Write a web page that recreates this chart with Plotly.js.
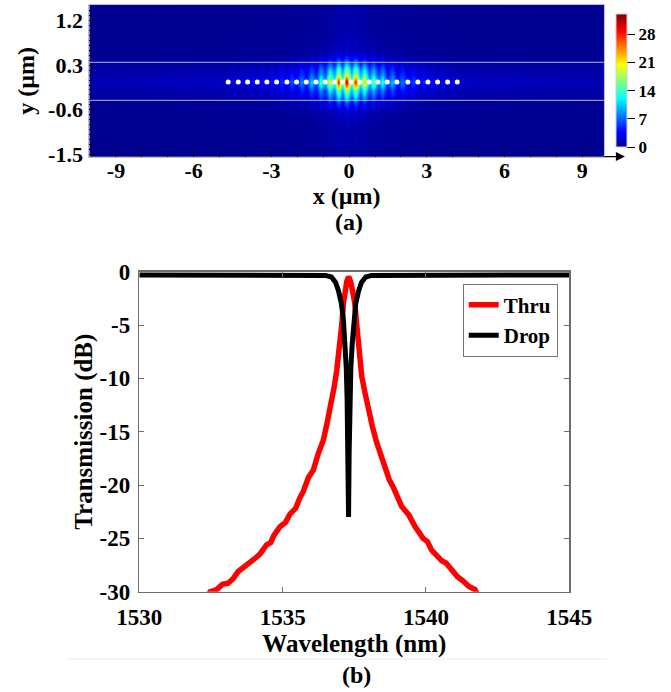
<!DOCTYPE html>
<html>
<head>
<meta charset="utf-8">
<script src="https://cdn.plot.ly/plotly-3.0.1.min.js"></script>
<style>html,body{margin:0;padding:0;background:#fff;}</style>
</head>
<body>
<div id="chart" style="width:671px;height:692px;"></div>
<script>
// ---------- (a) field map ----------
// hole centres along the line (µm)
const holeX = [-4.667,-4.281,-3.920,-3.547,-3.174,-2.800,-2.402,-2.028,-1.655,-1.282,-0.921,-0.574,-0.252,0.069,0.417,0.777,1.112,1.472,1.846,2.270,2.656,3.042,3.416,3.802,4.175];
const holeY = [-0.04,-0.04,-0.04,-0.04,-0.04,-0.04,-0.04,-0.04,-0.04,-0.04,-0.04,-0.04,-0.04,-0.04,-0.04,-0.04,-0.04,-0.04,-0.04,-0.04,-0.04,-0.04,-0.04,-0.04,-0.04];
// field grid columns (holes and the bright lobes between them) and field strength along the line
const fieldX = [-10.03,-8.0,-6.5,-5.5,-4.85,
  -4.667,-4.474,-4.281,-4.101,-3.920,-3.734,-3.547,-3.361,-3.174,-2.987,-2.800,-2.601,-2.402,-2.215,-2.028,-1.842,-1.655,-1.469,-1.282,-1.102,-0.921,-0.748,-0.574,-0.413,-0.252,-0.092,0.069,0.243,0.417,0.597,0.777,0.945,1.112,1.292,1.472,1.659,1.846,2.058,2.270,2.463,2.656,2.849,3.042,3.229,3.416,3.609,3.802,3.989,4.175,
  4.37,5.0,6.0,7.5,9.84];
const fieldAlongX = [1.3,1.4,1.6,1.8,1.9,
  1.9,2.8,2.0,3.0,2.1,3.3,2.2,3.8,2.4,4.4,2.8,5.4,3.2,6.8,3.9,8.5,4.8,11,6.3,15,9,21,13,29,15,32,15,29,13,23,10,17,8,14,5.8,10.5,4.5,8,3.6,6.2,3.0,4.9,2.6,3.9,2.3,3.2,2.0,2.8,1.9,
  1.9,1.8,1.6,1.4,1.3];
// field grid rows (µm) and relative strength across the waveguide
const fieldY = [-1.55,-1.0,-0.75,-0.61,-0.47,-0.34,-0.2,-0.12,-0.04,0.04,0.12,0.2,0.30,0.44,0.57,0.8,1.52];
const fieldAcrossY = [0.03,0.04,0.06,0.1,0.22,0.42,0.6,0.82,1,0.82,0.65,0.56,0.38,0.17,0.08,0.05,0.03];
const waveguideEdges = [0.36,-0.41];
const cbTicks = [0,7,14,21,28];
const xTicksA = [-9,-6,-3,0,3,6,9];
const yTicksA = [-1.5,-0.6,0.3,1.2];

// ---------- (b) transmission spectra ----------
const thruWl = [1532.38,1532.47,1532.7,1532.9,1533.1,1533.28,1533.45,1533.6,1533.8,1533.98,1534.2,1534.44,1534.58,1534.7,1534.91,1535.1,1535.26,1535.45,1535.6,1535.72,1535.9,1536.07,1536.25,1536.42,1536.55,1536.71,1536.8,1536.89,1536.95,1537.0,1537.07,1537.12,1537.18,1537.24,1537.30,1537.37,1537.44,1537.52,1537.58,1537.64,1537.70,1537.76,1537.87,1537.99,1538.13,1538.28,1538.42,1538.57,1538.72,1538.86,1539.0,1539.15,1539.4,1539.62,1539.9,1540.05,1540.2,1540.55,1540.7,1540.9,1541.1,1541.3,1541.5,1541.71,1541.82];
const thruDb = [-30.4,-30,-29.8,-29.3,-29.2,-28.75,-28.1,-27.8,-27.5,-27.0,-26.5,-25.6,-25.4,-24.7,-23.9,-23.5,-22.7,-22.2,-21.2,-20.6,-19.3,-18.6,-17.0,-15.8,-14.2,-12.3,-10.8,-9.2,-8.0,-6.7,-4.8,-3.0,-1.8,-0.9,-0.47,-0.9,-1.8,-3.0,-4.8,-6.7,-8.2,-9.8,-11.3,-12.9,-14.5,-16.0,-17.2,-18.3,-19.5,-20.2,-21.0,-22.0,-22.8,-23.9,-25.0,-25.3,-26.1,-27.1,-27.3,-28.0,-28.6,-29.0,-29.5,-29.8,-30.4];
const dropWl = [1530,1536.5,1536.7,1536.85,1536.95,1537.05,1537.12,1537.18,1537.22,1537.25,1537.28,1537.30,1537.32,1537.35,1537.38,1537.43,1537.5,1537.55,1537.65,1537.75,1537.9,1538.1,1545];
const dropDb = [-0.3,-0.35,-0.5,-1.0,-1.8,-3.0,-4.5,-6.7,-9,-12,-17,-23,-17,-12,-9,-6.7,-4.5,-3.0,-1.8,-1.0,-0.5,-0.35,-0.3];
const xTicksB = [1530,1535,1540,1545];
const yTicksB = [-30,-25,-20,-15,-10,-5,0];

// field table built from the two read profiles
const fieldZ = fieldAcrossY.map(r => fieldAlongX.map(c => r * c));
const cbMax = 33;

const jet = [[0,'rgb(0,0,143)'],[0.111,'rgb(0,0,255)'],[0.365,'rgb(0,255,255)'],[0.619,'rgb(255,255,0)'],[0.873,'rgb(255,0,0)'],[1,'rgb(128,0,0)']];
const serif = 'Liberation Serif, Times New Roman, serif';
const boldFont = (s) => ({family:serif, size:s, color:'black', weight:'bold'});

// colorbar geometry (paper)
const cbX = 0.918, cbThick = 11, cbLen = 0.1926, cbY = 0.8835;

const traces = [
  {type:'heatmap', x:fieldX, y:fieldY, z:fieldZ, zmin:0, zmax:cbMax, colorscale:jet, zsmooth:'best',
   xaxis:'x', yaxis:'y', showlegend:false, hoverinfo:'skip',
   colorbar:{x:cbX, xanchor:'left', xref:'paper', y:cbY, yanchor:'middle', yref:'paper',
     len:cbLen, lenmode:'fraction', thickness:cbThick, thicknessmode:'pixels', xpad:0, ypad:0,
     tickmode:'array', tickvals:cbTicks, ticktext:cbTicks.map(String),
     ticks:'outside', ticklen:8, tickcolor:'black', tickwidth:1,
     tickfont:boldFont(17),
     outlinewidth:1, outlinecolor:'#d0d0d0'}},
  {type:'scatter', mode:'markers', x:holeX, y:holeY, xaxis:'x', yaxis:'y', showlegend:false,
   marker:{color:'white', size:5}, hoverinfo:'skip'},
  {type:'scatter', mode:'lines', name:'Thru', x:thruWl, y:thruDb, xaxis:'x2', yaxis:'y2',
   line:{color:'rgb(255,0,0)', width:5.5}},
  {type:'scatter', mode:'lines', name:'Drop', x:dropWl, y:dropDb, xaxis:'x2', yaxis:'y2',
   line:{color:'black', width:5}}
];

// black tick lines across the colour bar, placed from the tick values
const cbBottom = cbY - cbLen/2;
const cbLines = cbTicks.filter(t => t > 0).map(t => ({type:'line', xref:'paper', yref:'paper',
  x0:cbX, x1:cbX + cbThick/671, y0:cbBottom + cbLen*t/cbMax, y1:cbBottom + cbLen*t/cbMax,
  line:{color:'black', width:1}}));

const layout = {
  width:671, height:692, margin:{l:0,r:0,t:0,b:0},
  paper_bgcolor:'white', plot_bgcolor:'white',
  font:boldFont(21),
  showlegend:true,
  xaxis:{domain:[0.1331,0.9001], range:[-10.03,9.84], anchor:'y',
    tickmode:'array', tickvals:xTicksA, ticktext:xTicksA.map(String), ticks:'inside', ticklen:5, tickcolor:'black',
    minor:{tickmode:'linear', tick0:0, dtick:1, ticks:'inside', ticklen:4, tickcolor:'black'},
    showline:true, mirror:true, linecolor:'rgb(190,190,200)', linewidth:1,
    showgrid:false, zeroline:false, tickfont:boldFont(22), ticklabelstandoff:-6,
    title:{text:'x (µm)', font:boldFont(24), standoff:4}},
  yaxis:{domain:[0.7736,0.9928], range:[-1.55,1.52], anchor:'x',
    tickmode:'array', tickvals:yTicksA, ticktext:yTicksA.map(String), ticks:'inside', ticklen:6, tickcolor:'black',
    minor:{tickmode:'linear', tick0:0.3, dtick:0.1, ticks:'inside', ticklen:3, tickcolor:'black'},
    showline:true, mirror:true, linecolor:'rgb(190,190,200)', linewidth:1,
    showgrid:false, zeroline:false, tickfont:boldFont(22), ticklabelstandoff:1,
    title:{text:'y (µm)', font:boldFont(24), standoff:6}},
  xaxis2:{domain:[0.2076,0.8484], range:[1530,1545], anchor:'y2',
    tickmode:'array', tickvals:xTicksB, ticktext:xTicksB.map(String), ticks:'inside', ticklen:5, tickcolor:'rgb(110,110,110)',
    showline:true, mirror:'ticks', linecolor:'rgb(110,110,110)', linewidth:1.5,
    showgrid:false, zeroline:false, tickfont:boldFont(23), ticklabelstandoff:4,
    title:{text:'Wavelength (nm)', font:boldFont(25), standoff:0}},
  yaxis2:{domain:[0.1449,0.6074], range:[-30,0], anchor:'x2',
    tickmode:'array', tickvals:yTicksB, ticktext:yTicksB.map(String), ticks:'inside', ticklen:5, tickcolor:'rgb(110,110,110)',
    showline:true, mirror:'ticks', linecolor:'rgb(110,110,110)', linewidth:1.5,
    showgrid:false, zeroline:false, tickfont:boldFont(23), ticklabelstandoff:3,
    title:{text:'Transmission (dB)', font:boldFont(25), standoff:0}},
  legend:{x:0.6896, y:0.590, xref:'paper', yref:'paper', xanchor:'left', yanchor:'top',
    bgcolor:'white', bordercolor:'rgb(120,120,120)', borderwidth:1,
    font:boldFont(21), itemwidth:30, tracegroupgap:0},
  shapes: waveguideEdges.map(v => ({type:'line', xref:'x domain', yref:'y', x0:0, x1:1, y0:v, y1:v,
      line:{color:'rgba(210,210,225,0.85)', width:1}})).concat([
    {type:'line', xref:'paper', yref:'paper', x0:0.1013, x1:0.9046, y0:0.0477, y1:0.0477,
     line:{color:'rgb(232,236,245)', width:1}}]).concat(cbLines),
  annotations:[
    {text:'(a)', xref:'paper', yref:'paper', x:0.520, y:0.679, xanchor:'center', yanchor:'middle', showarrow:false, font:boldFont(24)},
    {text:'(b)', xref:'paper', yref:'paper', x:0.5306, y:0.0246, xanchor:'center', yanchor:'middle', showarrow:false, font:boldFont(24)},
    {text:'', xref:'paper', yref:'paper', x:0.9314, y:0.7738, ax:-22, ay:0, showarrow:true,
     arrowhead:2, arrowsize:1.4, arrowwidth:1.3, arrowcolor:'black'}
  ]
};

Plotly.newPlot('chart', traces, layout, {staticPlot:true, displayModeBar:false});
</script>
</body>
</html>
